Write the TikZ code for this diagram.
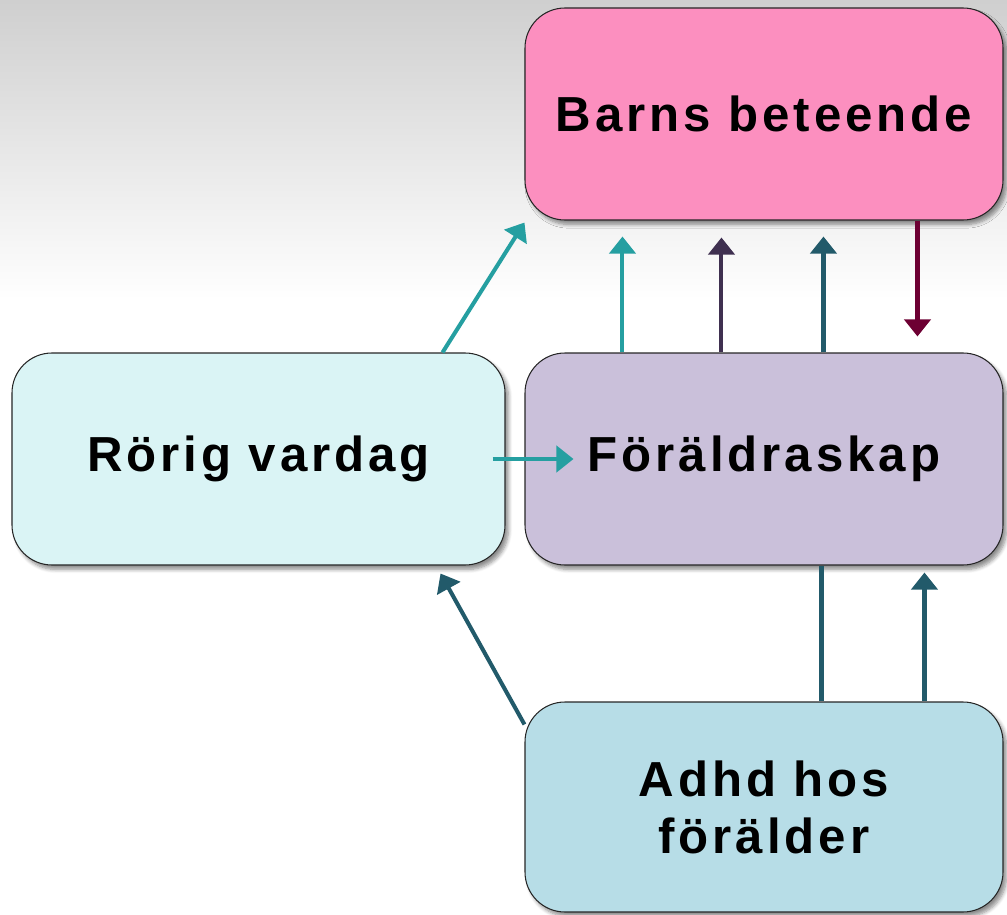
\documentclass[tikz,border=0pt]{standalone}
\usepackage{fontspec}
\setmainfont{Liberation Sans}[LetterSpace=8]
\usetikzlibrary{positioning,arrows.meta,shadows.blur}
\definecolor{bgtop}{HTML}{CFCFCF}
\definecolor{barnpink}{HTML}{FC8FBF}
\definecolor{foraldlila}{HTML}{CAC0DA}
\definecolor{rorigcyan}{HTML}{DAF4F5}
\definecolor{adhdblue}{HTML}{B7DDE7}
\definecolor{tealarr}{HTML}{259FA1}
\definecolor{purplearr}{HTML}{3F3050}
\definecolor{darkteal}{HTML}{225A6A}
\definecolor{maroonarr}{HTML}{6D0033}
\begin{document}
\begin{tikzpicture}[
  box/.style={rectangle, rounded corners=0.8cm, draw=black!85, line width=0.6pt, minimum width=9.56cm, minimum height=4.24cm, align=center, font=\bfseries\fontsize{28}{32.4}\selectfont, blur shadow={shadow xshift=2pt, shadow yshift=-2.5pt, shadow blur steps=6, shadow opacity=45}},
  arr/.style={-{Triangle[width=0.52cm,length=0.34cm]}, line width=2.3pt},
  node distance=6.9cm
]
\useasboundingbox (0,0) rectangle (20.14,-18.3);
\shade[top color=bgtop, bottom color=white] (0,0) rectangle (20.14,-6);

\node[box, fill=barnpink] (barn) at (15.28,-2.28) {Barns beteende};
\node[box, fill=foraldlila, below of=barn] (foralder) {Föräldraskap};
\node[box, fill=rorigcyan, minimum width=9.86cm, left of=foralder, node distance=10.11cm] (rorig) {Rörig vardag};
\node[box, fill=adhdblue, minimum height=4.2cm, below of=foralder, node distance=6.96cm] (adhd) {Adhd hos\\förälder};

\draw[arr, tealarr] ([xshift=-1.26cm]rorig.north east) -- ([yshift=-0.04cm]barn.south west);
\draw[arr, tealarr, shorten >=0.32cm] ([xshift=1.96cm]foralder.north west) coordinate (up1) -- (up1 |- barn.south);
\draw[arr, purplearr, shorten >=0.34cm] ([xshift=3.94cm]foralder.north west) coordinate (up2) -- (up2 |- barn.south);
\draw[arr, darkteal, shorten >=0.32cm] ([xshift=5.98cm]foralder.north west) coordinate (up3) -- (up3 |- barn.south);
\draw[arr, maroonarr, shorten >=0.32cm] ([xshift=7.86cm]barn.south west) coordinate (dn1) -- (dn1 |- foralder.north);
\draw[arr, tealarr] ([xshift=-0.26cm]rorig.east) -- ([xshift=0.98cm]foralder.west);
\draw[arr, darkteal] ([yshift=-0.46cm]adhd.north west) -- ([xshift=-1.3cm,yshift=-0.16cm]rorig.south east);
\draw[line width=2.3pt, darkteal] ([xshift=5.94cm]adhd.north west) coordinate (lo1) -- (lo1 |- foralder.south);
\draw[arr, darkteal, shorten >=0.14cm] ([xshift=8cm]adhd.north west) coordinate (lo2) -- (lo2 |- foralder.south);
\end{tikzpicture}
\end{document}
